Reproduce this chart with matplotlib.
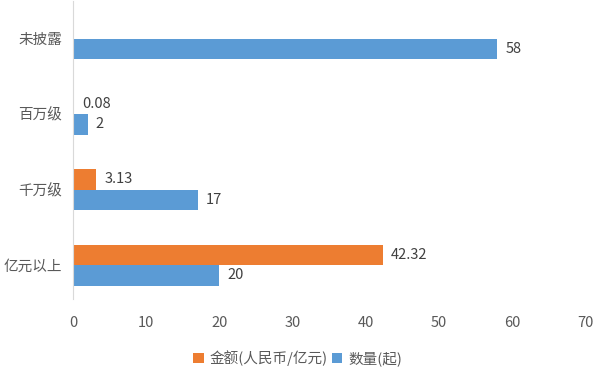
import matplotlib.pyplot as plt
import numpy as np

plt.rcParams['font.family'] = ['Noto Sans CJK SC', 'DejaVu Sans']

categories = ['亿元以上', '千万级', '百万级', '未披露']
amount = [42.32, 3.13, 0.08, None]   # 金额(人民币/亿元)
count = [20, 17, 2, 58]              # 数量(起)
amount_labels = ['42.32', '3.13', '0.08', None]
count_labels = ['20', '17', '2', '58']

orange = '#ED7D31'
blue = '#5B9BD5'
text_color = '#595959'

fig = plt.figure(figsize=(6.05, 3.76), dpi=100)
ax = fig.add_axes([0.121, 0.194, 0.846, 0.804])

y = np.arange(len(categories))
h = 0.27
amt_vals = [np.nan if v is None else v for v in amount]
ax.barh(y + h / 2, amt_vals, height=h, color=orange, label='金额(人民币/亿元)', zorder=2)
ax.barh(y - h / 2, count, height=h, color=blue, label='数量(起)', zorder=2)

for i in range(len(categories)):
    if amount[i] is not None:
        ax.text(amount[i] + 1.1, y[i] + h / 2, amount_labels[i], va='center',
                ha='left', fontsize=10.5, color='#404040')
    ax.text(count[i] + 1.1, y[i] - h / 2, count_labels[i], va='center',
            ha='left', fontsize=10.5, color='#404040')

ax.set_xlim(0, 70)
ax.set_ylim(-0.5, 3.5)
ax.set_xticks(range(0, 71, 10))
ax.set_yticks(y)
ax.set_yticklabels(categories)
ax.tick_params(axis='both', length=0, labelsize=10.5, labelcolor=text_color)
ax.tick_params(axis='x', pad=9)
ax.tick_params(axis='y', pad=8)
for s in ['top', 'right', 'bottom']:
    ax.spines[s].set_visible(False)
ax.spines['left'].set_color('#d9d9d9')
ax.spines['left'].set_bounds(-0.45, 3.5)

fig.legend(loc='center', bbox_to_anchor=(0.492, 0.048), ncol=2, frameon=False,
           fontsize=10.5, handlelength=0.7, handleheight=0.7, handletextpad=0.4,
           columnspacing=0.3, labelcolor=text_color)

fig.savefig('out.png', dpi=100)
